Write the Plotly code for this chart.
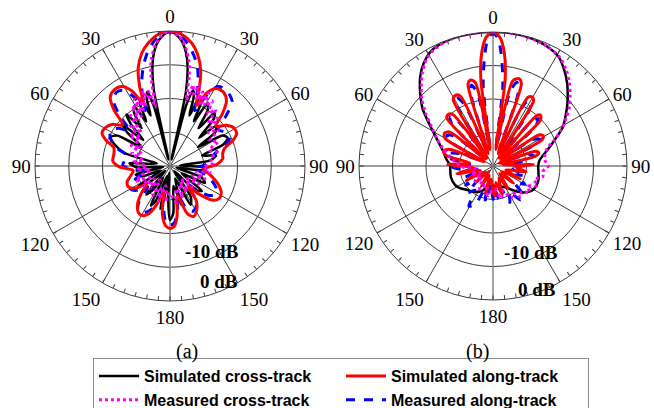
import plotly.graph_objects as go

# ---------------- panel (a) ----------------
# simulated along-track (angle deg, gain dB)
a_sa_theta = [-180, -176, -171, -166, -161, -156, -151, -146, -140, -134, -128, -122, -116, -110,
              -104, -97, -91, -85, -78, -72, -68, -64, -59, -54, -49, -45, -41, -36, -31, -27,
              -23, -21, -18, -14, -10, -5, 0, 5, 10, 14, 18, 21, 23.5, 27, 31, 36, 41, 45, 49,
              54, 59, 64, 68, 72, 77, 82, 88, 95, 102, 110, 118, 124, 129, 134, 138, 143, 149,
              155, 160, 166, 172, 176, 180]
a_sa_db = [-21.5, -22.2, -25.5, -32, -28, -24.5, -23.2, -23.3, -25, -28, -31, -27.5, -26.2, -26.5,
           -28, -29, -25, -23, -23, -22.5, -19.5, -17.6, -17.8, -19, -21.5, -16.5, -13, -12, -12.5, -15,
           -20, -15, -9.5, -5.5, -3, -0.8, 0, -0.8, -3, -6, -10.5, -16, -20.5, -15.5, -13.2, -13, -14.5, -18, -22,
           -19.5, -18, -18, -20, -23, -24, -24.2, -26, -30, -28, -25, -22.8, -22.6, -24, -28, -32, -27, -24.7,
           -23.5, -25, -31, -25, -22, -21.5]

# simulated cross-track
a_sc_theta = [-180, -177, -174, -170, -167, -164, -158, -154, -150, -144, -140, -136, -128, -122, -117,
              -110, -104, -98, -92, -86, -80, -74, -69, -64, -60, -56, -52, -49, -46, -43, -40, -37,
              -34, -31, -28, -26, -23.5, -21, -19, -17, -15, -13.5, -12, -10, -8, -5, 0, 5, 8, 10, 12,
              13.5, 15, 17, 19, 21, 23.5, 26, 28, 31, 34, 37, 40, 43, 46, 49, 53, 56, 60, 64, 68, 72,
              77, 82, 87, 92, 98, 104, 110, 116, 122, 128, 134, 140, 146, 152, 158, 164, 170, 176, 180]
a_sc_db = [-24, -30, -38, -30, -27, -37, -29, -27, -36, -31, -29, -38, -32, -29, -37,
           -31, -29.5, -38, -30, -28, -36, -26, -22.5, -20.5, -22, -30, -24, -21.5, -29, -23, -20, -26,
           -21, -19.5, -25, -20, -18, -24, -19, -17, -22, -38, -17, -10, -6, -2.5, 0, -2.5, -6, -10, -17,
           -38, -21, -16.5, -18.5, -24, -17.5, -19, -25, -18.5, -20, -26, -19.5, -21, -28, -22, -23, -30, -22, -21, -23, -30,
           -26, -28, -37, -29, -31, -38, -30, -28.5, -36, -28, -30, -38, -29, -27, -36, -28, -34, -26, -24]

# measured cross-track
a_mc_theta = [-180, -174, -168, -162, -156, -150, -144, -138, -132, -126, -120, -114, -108, -102, -96,
              -90, -84, -78, -72, -67, -62, -57, -52, -48, -44, -41, -38, -35, -32, -30, -28, -26,
              -24, -22, -20, -18, -16, -14, -12, -10, -7, -4, 0, 4, 7, 10, 12, 14, 16, 18, 20, 22,
              24, 26, 28, 30, 33, 36, 39, 42, 45, 49, 53, 58, 63, 68, 74, 80, 86, 92, 98, 104, 110,
              116, 122, 128, 134, 140, 146, 152, 158, 164, 170, 176, 180]
a_mc_db = [-32, -30, -34, -29, -33, -30, -35, -31, -34, -30, -33, -29, -31, -34, -30,
           -33, -29, -32, -28, -31, -27, -30, -25, -28, -23, -27, -21, -24, -19, -23, -17.5, -22,
           -18, -21, -16.5, -19, -17, -22, -13, -8, -4, -1.5, 0, -1.5, -4, -8, -12.5, -20, -15, -17.5, -14.5, -19,
           -16, -20, -15.5, -19.5, -17, -21, -18.5, -23, -20, -25, -22, -26, -24, -27.5, -25.5, -28, -27, -30, -28, -32, -29,
           -33, -30, -34, -31, -35, -31, -34, -30, -33, -29, -31, -32]

# measured along-track
a_ma_theta = [-180, -175, -170, -165, -159, -152, -145, -139, -133, -127, -121, -115, -109, -102, -96,
              -89, -83, -77, -71, -65, -59, -54, -49, -45, -41, -36, -32, -28, -24, -21, -18, -15,
              -11, -6, 0, 6, 11, 15, 18, 21, 24, 27, 31, 36, 40, 44, 48, 53, 58, 63, 67, 72, 77, 83,
              89, 95, 102, 109, 115, 121, 127, 132, 137, 142, 148, 154, 159, 165, 171, 176, 180]
a_ma_db = [-22.5, -24, -29, -33, -27, -24.5, -23.5, -26, -31, -28, -26.5, -27, -30, -33, -29,
           -26, -26.5, -27, -23, -20.5, -19.5, -21, -24, -19, -14.5, -13, -13.5, -16.5, -22, -17, -13, -9.5,
           -5.5, -2, -0.3, -2, -5.5, -9, -13, -18, -22, -17, -12.5, -12, -12.5, -13.5, -17.5, -22, -21, -20.5, -21, -25, -27, -28,
           -30, -33, -30, -27, -25, -24, -25.5, -29, -33, -28, -25.5, -25, -26.5, -31, -26, -23, -22.5]

# ---------------- panel (b) ----------------
b_sc_theta = [-180, -165, -157, -145, -132, -123, -116, -105, -95, -89, -82, -74, -65, -57, -51, -47,
              -43, -39, -34, -29, -24, -17, -8, 0, 8, 17, 24, 31, 37, 42, 46, 50, 55, 61, 69, 76, 83,
              90, 98, 107, 115, 122, 129, 135, 142, 149, 160, 170, 180]
b_sc_db = [-34, -33.5, -32, -30.5, -29.4, -28, -27.3, -27, -27.2, -27.2, -26, -24.6, -21.7, -17.5, -13, -10.5,
           -8, -5.5, -3, -1.2, -0.4, 0, 0, 0, 0, -0.2, -0.8, -2, -4.5, -6.9, -9, -11, -13.5, -16.2, -21, -24, -26,
           -26.5, -26.3, -25.8, -25.8, -26.2, -27.5, -29, -31, -32.6, -33.5, -34, -34]

b_mc_theta = [-180, -170, -160, -150, -140, -130, -120, -110, -100, -92, -85, -78, -70, -63, -57, -52,
              -47, -42, -37, -32, -27, -20, -10, 0, 10, 18, 25, 31, 37, 42, 47, 52, 57, 62, 67, 72, 77,
              83, 90, 96, 102, 108, 114, 120, 126, 132, 138, 144, 150, 158, 166, 174, 180]
b_mc_db = [-33, -31, -34, -32, -35, -33, -36, -33, -35, -31, -29, -27, -24, -21, -18, -14.5,
           -11, -8, -5, -2.5, -1, -0.2, 0, 0, 0, -0.3, -0.9, -1.8, -3.8, -6, -8.5, -11, -14, -17, -20, -23, -24,
           -24.5, -23.5, -25, -24.8, -27, -25.5, -28, -26.5, -28.5, -27.5, -30, -29, -32, -30, -33, -33]

b_sa_theta = [-180, -172, -165, -158, -150, -142, -134, -126, -118, -110, -102, -95, -88, -83, -77, -73,
              -69, -65, -60, -56, -52, -48, -44, -41, -38, -35, -31, -28, -25, -21, -17, -14.5, -12,
              -9.5, -8, -5.7, -3, 0, 3, 5.7, 8, 9.5, 13, 16.5, 19, 22.5, 27, 29.7, 32, 36, 41, 43, 46,
              50, 56, 59, 62, 66, 71, 74, 77, 82, 88, 93, 100, 107, 115, 122, 130, 138, 146, 154,
              162, 170, 176, 180]
b_sa_db = [-32, -36, -31.5, -37, -33, -38, -33, -37, -31, -36, -29, -34, -26.5, -33, -25.5, -24.6,
           -26, -37, -23.5, -22.5, -23.5, -37, -20.2, -19.6, -20.5, -37, -17, -16.1, -17, -36, -14.5, -13.5, -14.5,
           -35, -14, -6, -1.5, 0, -1.5, -6, -14, -35, -14, -12.8, -14, -36, -17, -16.3, -17.2, -37, -20, -19.2, -20.3,
           -37, -23.5, -22.5, -23.5, -38, -26.5, -25.8, -27, -37, -28, -33, -30, -36, -31, -37, -32, -37, -32, -36,
           -31, -35, -31, -32]

b_ma_theta = [-180, -174, -168, -162, -155, -149, -143, -137, -131, -125, -119, -112, -105, -98, -92,
              -86, -80, -75, -70, -65, -60, -56, -52, -48, -44, -41, -38, -35, -31, -28, -25, -21,
              -17, -15, -12, -10, -7, -4, -2, 0, 2, 4, 7, 10, 13, 16, 19, 22, 27, 30, 33, 36, 41, 44,
              47, 51, 56, 60, 63, 67, 72, 76, 80, 86, 92, 99, 106, 113, 120, 127, 134, 141, 148, 155,
              162, 170, 176, 180]
b_ma_db = [-30, -34, -29, -33, -27.5, -26, -31, -29, -34, -30, -35, -31, -36, -32, -28,
           -33, -27, -26, -29, -36, -25, -23.5, -26, -36, -22, -20.5, -23, -36, -19, -17, -19.5, -35,
           -17, -15, -18, -34, -16, -6, -1.5, -0.5, -1.5, -6, -16, -34, -17, -14, -17, -35, -19, -17.5, -20, -36, -22, -20.5,
           -23, -36, -26, -24, -26.5, -36, -29, -27.5, -30, -35, -31, -34, -30, -33, -29, -32, -27.5, -27, -31, -28,
           -33, -30, -33, -30]

# axis labelling
spoke_angles = [30, 60, 90, 120, 150]
angle_labels = ["0", "30", "60", "90", "120", "150", "180", "150", "120", "90", "60", "30"]
ring_levels = [-30, -20, -10, 0]
db_range = [-40, 0]

series = [
    ("Simulated cross-track", dict(color="black", width=2.5), 1),
    ("Simulated along-track", dict(color="#ff0000", width=3), 2),
    ("Measured cross-track", dict(color="#ff00ff", width=3, dash="dot"), 3),
    ("Measured along-track", dict(color="#0000ff", width=3, dash="dash"), 4),
]
panel_data = {
    "polar": {"Simulated cross-track": (a_sc_theta, a_sc_db),
              "Simulated along-track": (a_sa_theta, a_sa_db),
              "Measured cross-track": (a_mc_theta, a_mc_db),
              "Measured along-track": (a_ma_theta, a_ma_db)},
    "polar2": {"Simulated cross-track": (b_sc_theta, b_sc_db),
               "Simulated along-track": (b_sa_theta, b_sa_db),
               "Measured cross-track": (b_mc_theta, b_mc_db),
               "Measured along-track": (b_ma_theta, b_ma_db)},
}
draw_order = ["Simulated cross-track", "Measured along-track", "Simulated along-track", "Measured cross-track"]

fig = go.Figure()

for sp in ["polar", "polar2"]:
    # spokes through the centre
    th, rr = [], []
    for a in spoke_angles:
        th += [a, a, a + 180, None]
        rr += [db_range[1], db_range[0], db_range[1], None]
    fig.add_trace(go.Scatterpolar(theta=th, r=rr, mode="lines", subplot=sp, showlegend=False,
                                  hoverinfo="skip", line=dict(color="#3a3a3a", width=1)))
    fig.add_trace(go.Scatterpolar(theta=[0, 0, 180], r=[db_range[1], db_range[0], db_range[1]],
                                  mode="lines", subplot=sp, showlegend=False, hoverinfo="skip",
                                  line=dict(color="#8c8c8c", width=1.6)))
    for name in draw_order:
        style, rank = [(s, r) for n, s, r in series if n == name][0]
        th, db = panel_data[sp][name]
        fig.add_trace(go.Scatterpolar(theta=th, r=db, mode="lines", name=name, subplot=sp,
                                      line=dict(shape="spline", smoothing=0.8, **style),
                                      showlegend=(sp == "polar"), legendrank=rank))

tick_vals = list(range(0, 360, 5))
tick_text = [angle_labels[v // 30] if v % 30 == 0 else "" for v in tick_vals]

def polar_layout(xdom, ydom):
    return dict(
        domain=dict(x=xdom, y=ydom),
        bgcolor="white",
        radialaxis=dict(range=db_range, tickvals=ring_levels, showticklabels=False, ticks="",
                        showline=False, gridcolor="#3a3a3a", gridwidth=1),
        angularaxis=dict(rotation=90, direction="clockwise", tickmode="array", tickvals=tick_vals,
                         ticktext=tick_text, ticks="inside", ticklen=4, tickcolor="#3a3a3a",
                         showgrid=False, showline=True, linecolor="#3a3a3a", linewidth=1,
                         tickfont=dict(family="Liberation Serif", size=19, color="black")),
    )

W, H = 654, 408
fig.update_layout(
    width=W, height=H, margin=dict(l=0, r=0, t=0, b=0, autoexpand=False),
    paper_bgcolor="white", plot_bgcolor="white",
    polar=polar_layout([35 / W, 305 / W], [107 / H, 377 / H]),
    polar2=polar_layout([359 / W, 627 / W], [108 / H, 376 / H]),
    showlegend=True,
    legend=dict(orientation="h", x=93 / W, y=1 - 358 / H, xanchor="left", yanchor="top",
                entrywidth=192, entrywidthmode="pixels", bordercolor="#8c8c8c", borderwidth=1,
                bgcolor="white", font=dict(family="Liberation Sans", size=16, color="black", weight="bold"),
                tracegroupgap=0, itemwidth=40),
)

ann_font = dict(family="Liberation Serif", size=19, color="black", weight="bold")
for cx, cy, texts in [(170, 166, [("-10 dB", 41.7, 85.5), ("0 dB", 49, 115.5)]),
                      (493, 166, [("-10 dB", 38, 86), ("0 dB", 43.5, 123)])]:
    for t, dx, dy in texts:
        fig.add_annotation(x=(cx + dx) / W, y=1 - (cy + dy) / H, xref="paper", yref="paper",
                           xanchor="center", yanchor="middle",
                           text=t, showarrow=False, font=ann_font)

for t, x in [("(a)", 187), ("(b)", 477)]:
    fig.add_annotation(x=x / W, y=1 - 351 / H, xref="paper", yref="paper", text=t, showarrow=False,
                       xanchor="center", yanchor="middle",
                       font=dict(family="Liberation Serif", size=20, color="black"))

fig.write_html("out.html")
